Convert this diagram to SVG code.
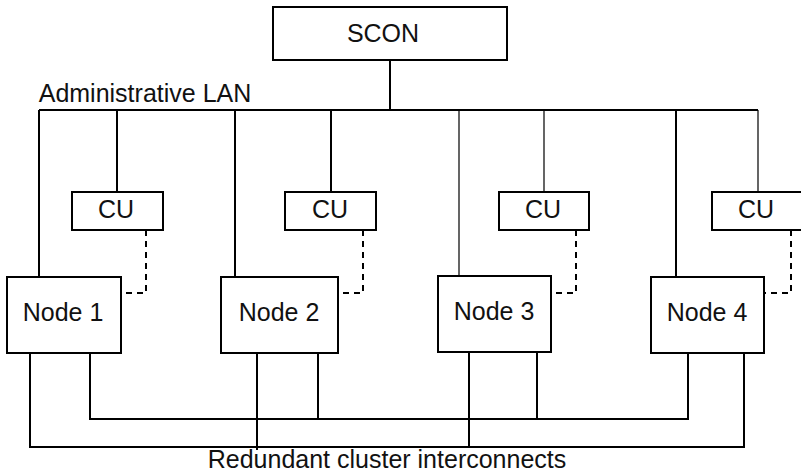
<svg xmlns="http://www.w3.org/2000/svg" width="801" height="474" viewBox="0 0 801 474">
<style>
.box{fill:#fff;stroke:#000;stroke-width:2}
.t{font-family:"Liberation Sans",Arial,sans-serif;font-size:25px;fill:#111;text-anchor:middle}
.w{stroke:#000;stroke-width:2;fill:none}
.th{stroke:#000;stroke-width:1.2;fill:none}
.d{stroke:#000;stroke-width:2;fill:none;stroke-dasharray:6 5}
</style>
<rect width="801" height="474" fill="#fff"/>
<g id="connectors">
<path class="w" d="M390 60V110M39 110H758M39 110V277M117 110V192M235 110V277M331 110V192M676 110V277"/>
<path class="th" d="M459 110V276M544 110V192M758 110V192"/>
<path class="d" d="M146 230V293H121M363 230V293H338M576 230V293H551M791 230V293H764"/>
<path class="w" d="M30 353V447H744V353M90 353V419H688V353M257 353V450M318 353V419M469 352V447M537 352V419"/>
</g>
<g id="scon"><rect class="box" x="273" y="7" width="234" height="53"/><text class="t" x="383" y="42">SCON</text></g>
<text class="t" x="145" y="102">Administrative LAN</text>
<g id="cu1"><rect class="box" x="72" y="192" width="91" height="38"/><text class="t" x="116" y="218">CU</text></g>
<g id="cu2"><rect class="box" x="285" y="192" width="91" height="38"/><text class="t" x="330" y="218">CU</text></g>
<g id="cu3"><rect class="box" x="499" y="192" width="90" height="38"/><text class="t" x="543" y="218">CU</text></g>
<g id="cu4"><rect class="box" x="712" y="192" width="95" height="38"/><text class="t" x="756" y="218">CU</text></g>
<g id="node1"><rect class="box" x="7" y="277" width="114" height="76"/><text class="t" x="63" y="321">Node 1</text></g>
<g id="node2"><rect class="box" x="221" y="277" width="117" height="76"/><text class="t" x="279" y="321">Node 2</text></g>
<g id="node3"><rect class="box" x="438" y="276" width="113" height="76"/><text class="t" x="494" y="320">Node 3</text></g>
<g id="node4"><rect class="box" x="651" y="277" width="113" height="76"/><text class="t" x="707" y="321">Node 4</text></g>
<text class="t" x="387" y="468">Redundant cluster interconnects</text>
</svg>
